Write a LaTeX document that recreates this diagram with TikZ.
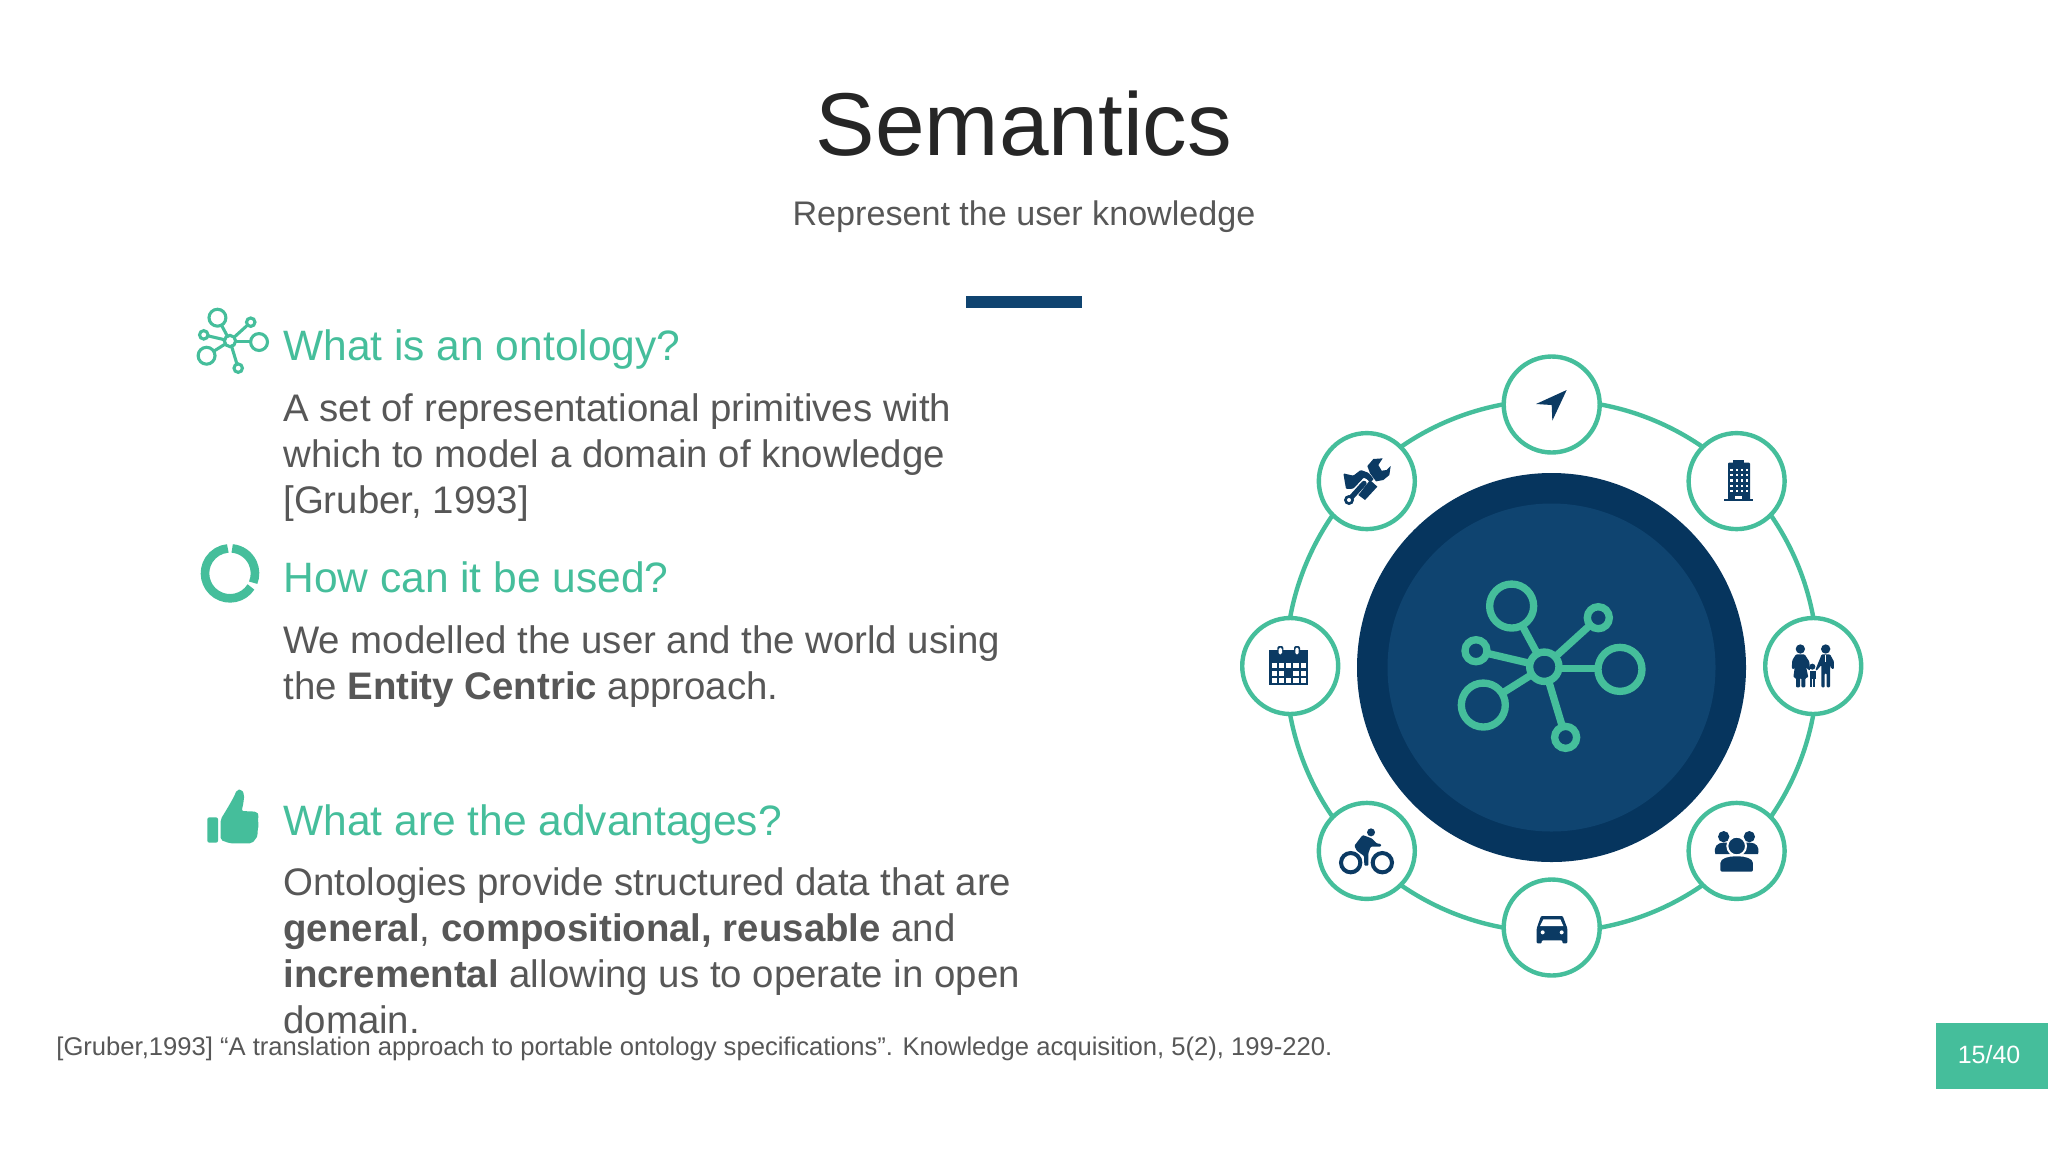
\documentclass[tikz,border=0pt]{standalone}
\usepackage{fontspec}
\setmainfont{Liberation Sans}
\definecolor{tealg}{HTML}{45BE9B}
\definecolor{navyd}{HTML}{06355E}
\definecolor{navyi}{HTML}{0F4470}
\definecolor{navyc}{HTML}{0B3A63}
\definecolor{titlec}{HTML}{262626}
\definecolor{bodyc}{HTML}{575757}
\tikzset{
  titletext/.style={inner sep=0pt,text=titlec,font=\fontsize{44.6}{50}\selectfont,anchor=base},
  subtext/.style={inner sep=0pt,text=bodyc,font=\fontsize{17.06}{20}\selectfont,anchor=base},
  headtext/.style={inner sep=0pt,text=tealg,font=\fontsize{21.25}{25}\selectfont,anchor=base west},
  bodytext/.style={inner sep=0pt,text=bodyc,align=left,font=\fontsize{19.2}{23}\selectfont,anchor=base west},
  reftext/.style={inner sep=0pt,text=bodyc,font=\fontsize{12.8}{16}\selectfont,anchor=base west},
  satellite/.style={circle,draw=tealg,fill=white,line width=2.2pt,minimum size=48pt,inner sep=0pt},
}
\newcommand{\netlogo}[4]{%
  \begin{scope}[shift={(#1,#2)},scale=#3,draw=tealg,line width=#4]
    \draw (0,0) circle[radius=44];
    \draw (-98,-182) circle[radius=66];
    \draw (227,8) circle[radius=66];
    \draw (-183,115) circle[radius=66];
    \draw (162,-147) circle[radius=33];
    \draw (-205,-48) circle[radius=33];
    \draw (64,212) circle[radius=33];
    \draw (-20.9,-38.7) -- (-66.7,-123.9);
    \draw (44,5) -- (161,5);
    \draw (-37.3,23.4) -- (-127,79.9);
    \draw (32.6,-29.6) -- (137.6,-124.9);
    \draw (-42.9,-10) -- (-172.9,-40.5);
    \draw (12.7,42.1) -- (54.4,180.4);
  \end{scope}}
\begin{document}
\begin{tikzpicture}[x=0.5pt,y=-0.5pt]
\useasboundingbox (0,0) rectangle (2048,1152);
\fill[white] (0,0) rectangle (2048,1152);

% titles
\node[titletext] (title) at (1024,155) {Semantics};
\node[subtext] (subtitle) at (1024,225.5) {Represent the user knowledge};
\fill[navyi] (966,296) rectangle (1082,308);

% left texts
\node[headtext] (h1) at (283,360) {What is an ontology?};
\node[bodytext] (b1) at (283,513) {A set of representational primitives with\\which to model a domain of knowledge\\{}[Gruber, 1993]};
\node[headtext] (h2) at (283,592) {How can it be used?};
\node[bodytext] (b2) at (283,699) {We modelled the user and the world using\\the \textbf{Entity Centric} approach.};
\node[headtext] (h3) at (283,835) {What are the advantages?};
\node[bodytext] (b3) at (283,1033) {Ontologies provide structured data that are\\\textbf{general}, \textbf{compositional, reusable} and\\\textbf{incremental} allowing us to operate in open\\domain.};
\node[reftext] (ref) at (56,1055) {[Gruber,1993] “A translation approach to portable ontology specifications”. Knowledge acquisition, 5(2), 199-220.};

% page badge
\node[fill=tealg,minimum width=56.25pt,minimum height=33pt,inner sep=0pt] (page) at (1991.75,1056) {};
\node[text=white,inner sep=0pt,font=\fontsize{12.5}{15}\selectfont] (pagenum) at (1989,1054.5) {15/40};

% left icons
\netlogo{230}{341}{0.128}{1.55pt}
\begin{scope}[shift={(190,530)},scale=1/3]
  \draw[tealg,line width=4.3pt] (120,130) ++(-85:75) arc[start angle=-85,end angle=22,radius=75];
  \draw[tealg,line width=4.3pt] (120,130) ++(33:75) arc[start angle=33,end angle=265,radius=75];
  \fill[tealg,rounded corners=1pt] (52,862) rectangle (84,938);
  \fill[tealg,rounded corners=1pt] (92,868) -- (115,830) -- (133,798) -- (140,780) -- (155,778) -- (163,795) -- (160,820) -- (155,843) -- (200,845) -- (207,855) -- (203,870) -- (207,885) -- (202,900) -- (204,915) -- (195,930) -- (185,940) -- (120,940) -- (92,930) -- cycle;
\end{scope}

% hub and ring
\coordinate (hub) at (1551.7,666);
\draw[tealg,line width=2.2pt] (hub) circle[radius=266];
\node[circle,fill=navyd,minimum size=194.5pt,inner sep=0pt] (outerdisc) at (1551.5,667.5) {};
\node[circle,fill=navyi,minimum size=164pt,inner sep=0pt] (innerdisc) at (1551.5,667.5) {};
\netlogo{1544.3}{666.7}{0.3333}{3.67pt}

\node[satellite] (s1) at (1551.7,404.5) {};
\node[satellite] (s2) at (1736.6,481.1) {};
\node[satellite] (s3) at (1813.2,666) {};
\node[satellite] (s4) at (1736.6,850.9) {};
\node[satellite] (s5) at (1551.7,927.5) {};
\node[satellite] (s6) at (1366.8,850.9) {};
\node[satellite] (s7) at (1290.2,666) {};
\node[satellite] (s8) at (1366.8,481.1) {};

% navigation arrow and tools
\begin{scope}[shift={(1290,340)},scale=1/3]
  \fill[navyc] (830,150) -- (738,192) -- (785,195) -- (787,242) -- cycle;
  \fill[navyc,rounded corners=0.5pt] (160,400) -- (190,407) -- (212,390) -- (235,398) -- (252,418) -- (240,426) -- (222,412) -- (190,446) -- (168,447) -- cycle;
  \fill[navyc] (232,378) -- (250,357) -- (278,355) -- (265,375) -- (275,392) -- (290,390) -- (302,378) -- (298,405) -- (280,420) -- (258,424) -- (240,400) -- cycle;
  \fill[navyc] (205,465) -- (225,480) -- (262,440) -- (240,420) -- cycle;
  \draw[white,line width=1.2pt] (185,470) -- (232,420);
  \draw[navyc,line width=2.6pt,line cap=round] (175,482) -- (222,430);
  \fill[navyc] (177,480) circle[radius=15];
  \fill[white] (177,480) circle[radius=6];
\end{scope}

% building and family
\begin{scope}[shift={(1640,340)},scale=1/3]
  \fill[navyc] (280,360) rectangle (312,370);
  \fill[navyc,rounded corners=0.5pt] (264,368) rectangle (330,482);
  \fill[navyc] (252,478) rectangle (340,484);
  \foreach \wx in {274,290,306,320}
    \foreach \wy in {390,405,421,437,453}
      \fill[white] (\wx-3.5,\wy-3.5) rectangle (\wx+3.5,\wy+3.5);
  \fill[white] (285,468) rectangle (307,477);
  \fill[navyc] (481,927) circle[radius=14];
  \fill[navyc] (557,927) circle[radius=14];
  \fill[navyc] (517,980) circle[radius=9];
  \fill[navyc,rounded corners=0.5pt] (468,943) -- (494,943) -- (508,965) -- (510,992) -- (500,985) -- (497,975) -- (505,1012) -- (496,1014) -- (496,1042) -- (484,1042) -- (484,1014) -- (480,1014) -- (480,1042) -- (468,1042) -- (468,1014) -- (460,1012) -- (465,975) -- (462,988) -- (455,985) -- (457,960) -- cycle;
  \fill[navyc,rounded corners=0.5pt] (545,943) -- (570,943) -- (582,965) -- (581,988) -- (573,985) -- (570,972) -- (570,1042) -- (560,1042) -- (560,1000) -- (554,1000) -- (554,1042) -- (544,1042) -- (544,975) -- (530,992) -- (526,990) -- cycle;
  \fill[navyc] (509,992) rectangle (527,1016);
  \fill[navyc] (510,1014) rectangle (525,1042);
  \draw[white,line width=0.5pt] (517.5,1018) -- (517.5,1042);
  \draw[white,line width=0.5pt] (557,945) -- (557,965);
\end{scope}

% calendar and bike
\begin{scope}[shift={(1220,600)},scale=1/3]
  \fill[navyc] (148,150) rectangle (264,255);
  \foreach \rx in {181,231} {
    \fill[navyc,rounded corners=1pt] (\rx-9,138) rectangle (\rx+9,168);
    \fill[white,rounded corners=0.7pt] (\rx-5,143) rectangle (\rx+5,163);
    }
  \foreach \cx/\cy in {155/190,177/190,198/190,220/190,242/190,155/212,177/212,220/212,242/212,155/233,177/233,198/233,220/233,242/233}
    \fill[white] (\cx,\cy) rectangle (\cx+16,\cy+15);
  \draw[navyc,line width=2pt] (392,788) circle[radius=29];
  \draw[navyc,line width=2pt] (487,788) circle[radius=29];
  \fill[navyc] (453,697) circle[radius=12];
  \fill[navyc,rounded corners=0.5pt] (403,737) -- (428,705) -- (455,715) -- (470,730) -- (483,732) -- (483,740) -- (452,740) -- (445,760) -- (445,797) -- (433,797) -- (432,768) -- (410,752) -- cycle;
\end{scope}

% people and car
\begin{scope}[shift={(1480,780)},scale=1/3]
  \fill[navyc] (731,170) circle[radius=17];
  \fill[navyc] (808,170) circle[radius=17];
  \fill[navyc] (706,222) .. controls (700,200) and (712,188) .. (730,188) -- (760,188) -- (760,222) -- cycle;
  \fill[navyc] (834,222) .. controls (840,200) and (828,188) .. (810,188) -- (780,188) -- (780,222) -- cycle;
  \draw[white,line width=1pt,fill=navyc] (770,198) circle[radius=28];
  \draw[white,line width=1pt,fill=navyc,rounded corners=1.2pt] (718,278) -- (718,255) .. controls (718,232) and (745,226) .. (770,226) .. controls (795,226) and (822,232) .. (822,255) -- (822,278) -- cycle;
  \fill[navyc,rounded corners=0.5pt] (183,408) -- (248,408) -- (262,445) -- (262,490) -- (247,490) -- (247,481) -- (185,481) -- (185,490) -- (170,490) -- (170,445) -- cycle;
  \fill[white] (190,418) -- (241,418) -- (250,438) -- (180,438) -- cycle;
  \fill[white] (188,457) circle[radius=6];
  \fill[white] (245,457) circle[radius=6];
\end{scope}
\end{tikzpicture}
\end{document}
